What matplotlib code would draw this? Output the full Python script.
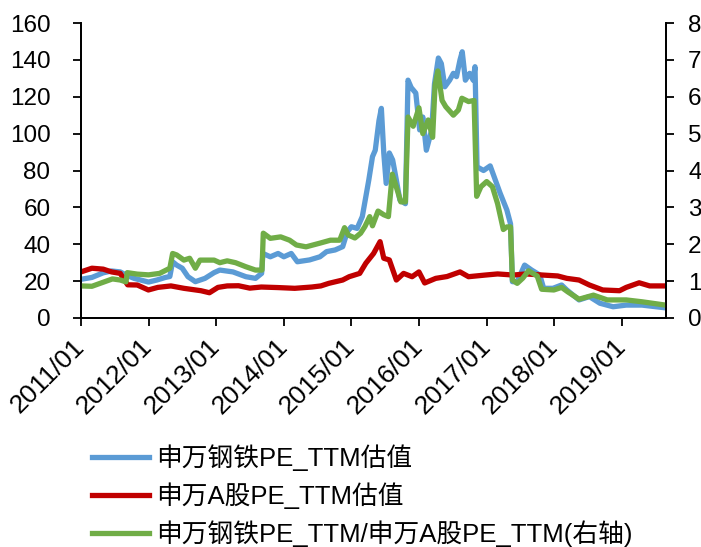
import matplotlib
matplotlib.use("Agg")
import matplotlib.pyplot as plt
import matplotlib.dates as mdates
import pandas as pd

# ---------------- data ----------------
steel_dates = ["2011-01-01","2011-03-01","2011-05-01","2011-06-15","2011-08-01","2011-09-01","2011-10-15",
    "2012-01-01","2012-02-15","2012-04-01","2012-04-25","2012-05-10","2012-06-01","2012-07-01","2012-08-01",
    "2012-09-10","2012-11-01","2012-12-20","2013-01-20","2013-04-01","2013-06-10","2013-08-01","2013-09-03",
    "2013-09-10","2013-10-20","2013-12-01","2014-01-01","2014-02-10","2014-03-15","2014-05-20","2014-07-15",
    "2014-08-20","2014-10-05","2014-11-15","2014-12-10","2015-01-01","2015-02-01","2015-03-01","2015-04-05",
    "2015-04-25","2015-05-10","2015-05-30","2015-06-12","2015-06-25","2015-07-08","2015-07-25","2015-08-12",
    "2015-09-01","2015-09-20","2015-10-20","2015-11-03","2015-11-20","2015-12-15","2016-01-05","2016-01-22",
    "2016-02-10","2016-03-10","2016-03-25","2016-04-15","2016-05-01","2016-05-20","2016-06-15","2016-07-05",
    "2016-07-22","2016-08-10","2016-08-22","2016-09-08","2016-10-01","2016-10-20","2016-10-30","2016-11-10",
    "2016-12-15","2017-01-20","2017-03-15","2017-04-20","2017-05-10","2017-05-20","2017-06-15","2017-07-25",
    "2017-09-01","2017-10-15","2017-11-05","2017-12-25","2018-02-10","2018-03-10","2018-05-15","2018-07-10",
    "2018-09-05","2018-11-15","2019-01-25","2019-04-20","2019-08-25"]
steel_pe = [21, 22, 24.5, 25.5, 25, 23.3, 21.5,
    19.5, 20.6, 22, 22.5, 30.5, 28.7, 27, 22.4,
    19.7, 21.5, 24.6, 26, 25, 22.4, 21.5, 24.2,
    35, 33.2, 35, 33.2, 35, 30.5, 31.5, 33.2,
    36, 36.9, 38.7, 46.8, 49.5, 48.6, 55, 74.8,
    87.5, 91, 107, 113.7, 89.5, 73, 89.5, 85.7,
    74.8, 64, 62, 129, 125, 122, 102, 109,
    91, 102, 127, 141, 138, 125.4, 129, 132.7,
    130.9, 140, 144.4, 129, 132.7, 129, 136.3, 82,
    80, 82.5, 67.6, 58.6, 51, 19.7, 19.7, 28.7,
    26, 23.3, 16.1, 16.1, 17.9, 15.2, 9.8, 11.6,
    8, 6.1, 7, 7, 5.5]

ashare_dates = ["2011-01-01","2011-03-01","2011-05-01","2011-06-15","2011-08-01","2011-09-10","2011-11-01",
    "2011-12-31","2012-02-20","2012-05-01","2012-07-10","2012-10-10","2012-11-25","2013-01-10","2013-03-01",
    "2013-05-01","2013-07-01","2013-09-01","2013-12-01","2014-03-01","2014-06-01","2014-07-20","2014-09-01",
    "2014-11-15","2014-12-20","2015-02-15","2015-03-20","2015-05-01","2015-06-05","2015-06-25","2015-07-25",
    "2015-09-01","2015-10-10","2015-11-25","2016-01-01","2016-02-01","2016-04-01","2016-06-01","2016-08-10",
    "2016-09-25","2016-12-25","2017-03-01","2017-05-25","2017-08-01","2017-10-30","2018-01-20","2018-03-10",
    "2018-05-15","2018-07-10","2018-09-20","2018-12-20","2019-01-25","2019-04-05","2019-06-01","2019-08-25"]
ashare_pe = [25, 27, 26.5, 25, 24.2, 18, 17.9,
    15.2, 16.6, 17.4, 16.1, 14.8, 13.7, 16.6, 17.4,
    17.5, 16.2, 16.8, 16.5, 16.1, 16.8, 17.4, 18.8,
    20.6, 22.4, 24.2, 29.7, 35, 41.4, 32.4, 31.5,
    20.6, 24.2, 22.4, 25, 19, 21.5, 22.5, 25,
    22.4, 23.3, 23.9, 23.3, 23.9, 23.3, 22.8, 21.5,
    20.6, 17.9, 15.2, 14.8, 16.6, 19.1, 17.4, 17.4]

ratio_dates = ["2011-01-01","2011-03-01","2011-05-01","2011-06-20","2011-08-01","2011-09-01","2011-09-08",
    "2011-11-01","2012-01-01","2012-03-01","2012-04-25","2012-05-10","2012-06-01","2012-07-10","2012-08-10",
    "2012-09-10","2012-10-05","2012-12-20","2013-01-20","2013-03-01","2013-04-15","2013-06-10","2013-08-01",
    "2013-09-05","2013-09-12","2013-10-20","2013-12-15","2014-02-01","2014-03-10","2014-05-01","2014-07-15",
    "2014-09-10","2014-10-30","2014-11-25","2014-12-15","2015-01-20","2015-02-20","2015-03-15","2015-04-10",
    "2015-04-25","2015-05-25","2015-06-25","2015-07-20","2015-08-10","2015-09-01","2015-09-25","2015-10-20",
    "2015-11-03","2015-12-01","2016-01-01","2016-01-22","2016-02-20","2016-03-15","2016-03-28","2016-04-12",
    "2016-05-05","2016-05-25","2016-07-05","2016-08-01","2016-08-20","2016-09-25","2016-10-25","2016-11-08",
    "2016-12-01","2017-01-01","2017-02-01","2017-03-01","2017-04-01","2017-04-20","2017-05-10","2017-05-20",
    "2017-06-15","2017-07-15","2017-08-15","2017-10-01","2017-10-25","2017-12-30","2018-02-10","2018-03-15",
    "2018-05-15","2018-08-01","2018-10-15","2019-01-25","2019-04-20","2019-08-25"]
ratio = [0.87, 0.86, 0.97, 1.06, 1.03, 0.98, 1.23,
    1.19, 1.17, 1.21, 1.35, 1.75, 1.71, 1.57, 1.62,
    1.35, 1.57, 1.57, 1.50, 1.55, 1.50, 1.39, 1.30,
    1.30, 2.30, 2.16, 2.20, 2.11, 1.98, 1.93, 2.03,
    2.11, 2.11, 2.45, 2.25, 2.17, 2.30, 2.48, 2.75,
    2.50, 2.90, 2.80, 2.75, 3.90, 3.55, 3.15, 3.15,
    5.45, 5.20, 5.70, 5.00, 5.37, 4.90, 6.30, 6.70,
    5.90, 5.73, 5.50, 5.64, 5.96, 5.87, 5.90, 3.30,
    3.56, 3.70, 3.56, 3.10, 2.40, 2.47, 2.47, 1.03,
    0.94, 1.08, 1.28, 1.14, 0.78, 0.76, 0.83, 0.71,
    0.51, 0.62, 0.49, 0.49, 0.44, 0.35]

tick_dates = ["2011-01-01","2012-01-01","2013-01-01","2014-01-01","2015-01-01",
              "2016-01-01","2017-01-01","2018-01-01","2019-01-01"]
tick_labels = ["2011/01","2012/01","2013/01","2014/01","2015/01",
               "2016/01","2017/01","2018/01","2019/01"]

labels = ["申万钢铁PE_TTM估值", "申万A股PE_TTM估值", "申万钢铁PE_TTM/申万A股PE_TTM(右轴)"]
colors = ["#5B9BD5", "#C00000", "#70AD47"]

# ---------------- plot ----------------
plt.rcParams['font.family'] = ['Liberation Sans', 'Noto Sans CJK SC', 'DejaVu Sans']

W, H = 701, 547
fig = plt.figure(figsize=(W/100, H/100), dpi=100)
ax = fig.add_axes([81/W, 1-318/H, (666-81)/W, (318-23)/H])
ax2 = ax.twinx()

LW = 3.8
l1, = ax.plot(pd.to_datetime(steel_dates), steel_pe, color=colors[0], lw=LW, label=labels[0])
l2, = ax.plot(pd.to_datetime(ashare_dates), ashare_pe, color=colors[1], lw=LW, label=labels[1])
l3, = ax2.plot(pd.to_datetime(ratio_dates), ratio, color=colors[2], lw=LW, label=labels[2])

ax.set_ylim(0, 160)
ax.set_yticks(range(0, 161, 20))
ax2.set_ylim(0, 8)
ax2.set_yticks(range(0, 9, 1))
ax.set_xlim(pd.Timestamp("2011-01-01"), pd.Timestamp("2019-08-28"))
ax.set_xticks(pd.to_datetime(tick_dates))
ax.set_xticklabels(tick_labels, rotation=45, ha='right', va='center', rotation_mode='anchor')

for a in (ax, ax2):
    a.spines['top'].set_visible(False)
    for s in ('left', 'right', 'bottom'):
        a.spines[s].set_linewidth(1.3)
        a.spines[s].set_color('black')
ax.tick_params(axis='y', labelsize=17.5, length=6, width=1.3, pad=16)
ax.tick_params(axis='x', labelsize=19, length=6, width=1.3, pad=12)
ax2.tick_params(axis='y', labelsize=17.5, length=6, width=1.3, pad=10)

fig.legend([l1, l2, l3], labels, loc='upper left', bbox_to_anchor=(92/W, 1-444/H),
           frameon=False, fontsize=18.5, handlelength=2.2, handletextpad=0.3,
           labelspacing=0.45, borderaxespad=0, borderpad=0)

fig.savefig("out.png", dpi=100)
